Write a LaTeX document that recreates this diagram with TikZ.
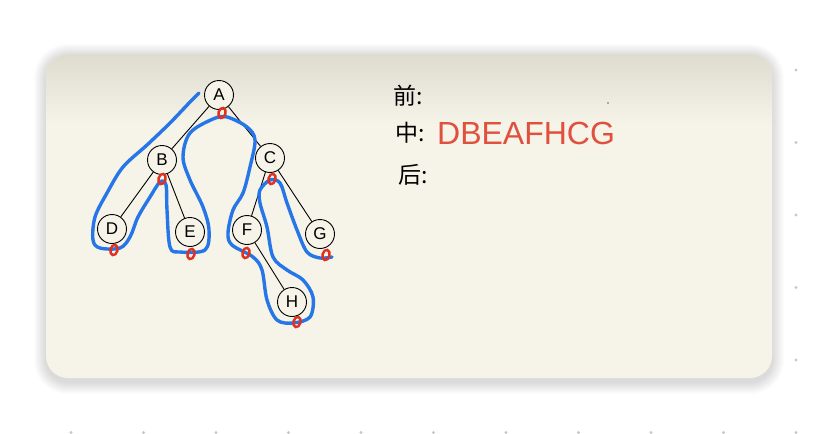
\documentclass[tikz,border=0pt]{standalone}
\usepackage{fontspec}
\setmainfont{Liberation Sans}
\newfontfamily\cjk{Noto Sans CJK SC}
\usetikzlibrary{shapes.geometric}
\definecolor{cardbg}{RGB}{246,243,233}
\definecolor{cardtop}{RGB}{222,219,207}
\definecolor{bluepen}{RGB}{38,118,232}
\definecolor{redpen}{RGB}{226,48,30}
\definecolor{redtext}{RGB}{224,80,62}
\definecolor{dotgray}{RGB}{200,200,200}
\tikzset{
  tnode/.style={circle,draw=black,line width=0.9pt,fill=cardbg,minimum size=29pt,inner sep=0pt,font=\fontsize{17}{17}\selectfont},
  tedge/.style={draw=black,line width=0.9pt},
  rmark/.style={ellipse,draw=redpen,line width=2.4pt,minimum width=7pt,minimum height=10.5pt,inner sep=0pt,rotate=-15},
  bpen/.style={draw=bluepen,line width=3.4pt,line cap=round,line join=round},
  lbl/.style={font=\cjk\fontsize{23}{23}\selectfont,anchor=west,inner sep=0pt}
}
\begin{document}
\begin{tikzpicture}[x=1pt,y=-1pt]
\useasboundingbox (0,0) rectangle (820,434);
\fill[white] (0,0) rectangle (820,434);
% background dot grid
\foreach \i in {0,...,11} {
  \foreach \j in {0,...,6} {
    \fill[dotgray] ({-1.5+72.5*\i},{-2.5+72.5*\j}) circle (1.6);
  }
}
% soft shadow
\foreach \k in {1,2,...,12} {
  \fill[black,opacity=0.012,rounded corners={22+\k}] ({46-\k},{56-\k}) rectangle ({772+\k},{382+\k});
}
% card
\fill[cardbg,rounded corners=22] (46,54) rectangle (772,378);
\begin{scope}
  \clip[rounded corners=22] (46,54) rectangle (772,378);
  \shade[top color=cardtop,bottom color=cardbg] (46,54) rectangle (772,125);
\end{scope}
% tree nodes
\node[tnode] (A) at (219,95) {A};
\node[tnode] (B) at (162,160) {B};
\node[tnode] (C) at (270,158) {C};
\node[tnode] (D) at (112,229) {D};
\node[tnode] (E) at (190,232) {E};
\node[tnode] (F) at (247,230) {F};
\node[tnode] (G) at (320,234) {G};
\node[tnode] (H) at (292,302) {H};
\draw[tedge] (A) -- (B);
\draw[tedge] (A) -- (C);
\draw[tedge] (B) -- (D);
\draw[tedge] (B) -- (E);
\draw[tedge] (C) -- (F);
\draw[tedge] (C) -- (G);
\draw[tedge] (F) -- (H);
% blue traversal path
\draw[bpen] plot[smooth,tension=0.55] coordinates {
 (199,93) (190,102) (170,123) (147,145) (123,167) (107,193) (95,217) (93,240)
 (100,248) (120,248) (130,237) (138,217) (150,197) (160,182) (166,185) (167,210)
 (170,247) (180,252) (205,250) (209,230) (203,207) (190,180) (183,157) (190,133)
 (213,119) (227,117) (247,127) (255,140) (250,167) (243,193) (233,210) (228,233)
 (232,245) (253,257) (262,270) (267,300) (277,320) (293,323) (310,317) (313,297)
 (303,280) (287,270) (273,257) (267,227) (260,203) (260,190) (270,180) (280,183)
 (287,203) (297,230) (307,252) (320,258) (332,257)};
% red marks
\node[rmark] (rA) at (222,113) {};
\node[rmark] (rB) at (162,179) {};
\node[rmark] (rC) at (272,179) {};
\node[rmark] (rD) at (114,250) {};
\node[rmark] (rE) at (191,254) {};
\node[rmark] (rF) at (246,253) {};
\node[rmark] (rG) at (326,255) {};
\node[rmark] (rH) at (297,322) {};
% labels
\node[lbl] (pre) at (393,96) {前:};
\node[lbl] (mid) at (395,133) {中:};
\node[lbl] (post) at (398,175) {后:};
\node[font=\fontsize{32}{32}\selectfont,text=redtext,anchor=west,inner sep=0pt] (seq) at (437,133) {DBEAFHCG};
\fill[black!60] (608,103) circle (0.9);
\end{tikzpicture}
\end{document}
